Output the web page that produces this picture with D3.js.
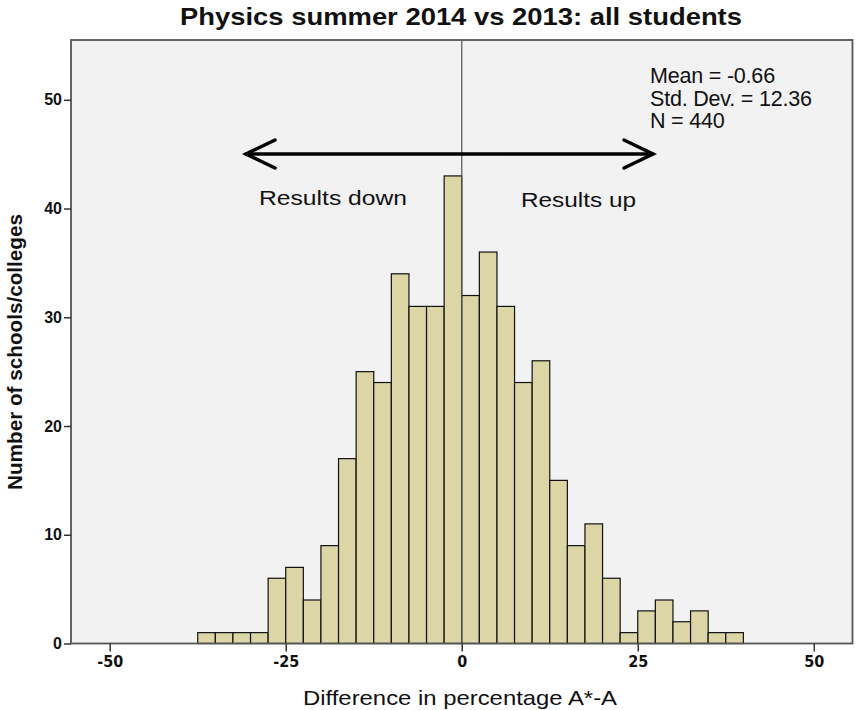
<!DOCTYPE html>
<html>
<head>
  <meta charset="utf-8">
  <script src="https://d3js.org/d3.v7.min.js"></script>
  <style>
    body { margin: 0; background: white; }
    svg { display: block; }
    text { font-family: "Liberation Sans", Arial, sans-serif; fill: #111; }
  </style>
</head>
<body>
<svg width="855" height="710"></svg>
<script>
// bin lower edges (width 2.5) and counts
const binStarts = [-37.5, -35, -32.5, -30, -27.5, -25, -22.5, -20, -17.5, -15, -12.5, -10, -7.5, -5, -2.5,
  0, 2.5, 5, 7.5, 10, 12.5, 15, 17.5, 20, 22.5, 25, 27.5, 30, 32.5, 35, 37.5];
const counts = [1, 1, 1, 1, 6, 7, 4, 9, 17, 25, 24, 34, 31, 31, 43,
  32, 36, 31, 24, 26, 15, 9, 11, 6, 1, 3, 4, 2, 3, 1, 1];
const binWidth = 2.5;
const xTicks = [-50, -25, 0, 25, 50];
const yTicks = [0, 10, 20, 30, 40, 50];
const stats = ["Mean = -0.66", "Std. Dev. = 12.36", "N = 440"];

const svg = d3.select("svg");
const plot = { left: 71, right: 852.5, top: 40, bottom: 643.5 };

const x = d3.scaleLinear().domain([-55.5, 55.5]).range([plot.left, plot.right]);
const y = d3.scaleLinear().domain([0, 55.5]).range([plot.bottom, plot.top]);

// plot background
svg.append("rect")
  .attr("x", plot.left).attr("y", plot.top)
  .attr("width", plot.right - plot.left).attr("height", plot.bottom - plot.top)
  .attr("fill", "#f2f2f2");

// bars
svg.append("g").selectAll("rect")
  .data(binStarts)
  .enter().append("rect")
  .attr("x", d => x(d))
  .attr("y", (d, i) => y(counts[i]))
  .attr("width", d => x(d + binWidth) - x(d))
  .attr("height", (d, i) => y(0) - y(counts[i]))
  .attr("fill", "#dcd6a6")
  .attr("stroke", "#111")
  .attr("stroke-width", 1.2);

// reference line at 0
svg.append("line")
  .attr("x1", x(0)).attr("x2", x(0))
  .attr("y1", plot.top).attr("y2", plot.bottom)
  .attr("stroke", "#555").attr("stroke-width", 1.2);

// frame
svg.append("rect")
  .attr("x", plot.left).attr("y", plot.top)
  .attr("width", plot.right - plot.left).attr("height", plot.bottom - plot.top)
  .attr("fill", "none")
  .attr("stroke", "#555").attr("stroke-width", 1.8);

// axes
const xAxis = svg.append("g")
  .attr("transform", `translate(0,${plot.bottom})`)
  .call(d3.axisBottom(x).tickValues(xTicks).tickFormat(d => String(d))
    .tickSize(8).tickSizeOuter(0).tickPadding(4));
xAxis.select(".domain").remove();
xAxis.selectAll("line").attr("stroke", "#333").attr("stroke-width", 1.5);
xAxis.selectAll("text")
  .style("font-family", "'Liberation Sans Narrow', 'DejaVu Sans Condensed', sans-serif")
  .attr("font-size", 16).attr("font-weight", "bold").attr("fill", "#111");

const yAxis = svg.append("g")
  .attr("transform", `translate(${plot.left},0)`)
  .call(d3.axisLeft(y).tickValues(yTicks).tickFormat(d => String(d))
    .tickSize(7).tickSizeOuter(0).tickPadding(2));
yAxis.select(".domain").remove();
yAxis.selectAll("line").attr("stroke", "#333").attr("stroke-width", 1.5);
yAxis.selectAll("text")
  .attr("font-size", 16).attr("font-weight", "bold").attr("fill", "#111");

// title
svg.append("text")
  .attr("x", 461).attr("y", 25)
  .attr("text-anchor", "middle")
  .attr("font-size", 24).attr("font-weight", "bold")
  .attr("textLength", 562).attr("lengthAdjust", "spacingAndGlyphs")
  .text("Physics summer 2014 vs 2013: all students");

// x axis title
svg.append("text")
  .attr("x", 460).attr("y", 705)
  .attr("text-anchor", "middle")
  .attr("font-size", 21)
  .attr("textLength", 314).attr("lengthAdjust", "spacingAndGlyphs")
  .text("Difference in percentage A*-A");

// y axis title
svg.append("text")
  .attr("transform", "translate(22,352) rotate(-90)")
  .attr("text-anchor", "middle")
  .attr("font-size", 20).attr("font-weight", "bold")
  .attr("textLength", 276).attr("lengthAdjust", "spacingAndGlyphs")
  .text("Number of schools/colleges");

// stats box
svg.append("g").selectAll("text")
  .data(stats)
  .enter().append("text")
  .attr("x", 650)
  .attr("y", (d, i) => 83 + i * 22.5)
  .attr("font-size", 21.5)
  .attr("letter-spacing", -0.2)
  .text(d => d);

// arrow
const arrowY = 154;
const ax1 = 246, ax2 = 653;
const arrow = svg.append("g")
  .attr("stroke", "#000").attr("stroke-width", 3.5)
  .attr("stroke-linecap", "round").attr("fill", "none");
arrow.append("line").attr("x1", ax1).attr("x2", ax2).attr("y1", arrowY).attr("y2", arrowY);
arrow.append("path").attr("d", `M${ax1 + 29},${arrowY - 14} L${ax1},${arrowY} L${ax1 + 29},${arrowY + 14}`);
arrow.append("path").attr("d", `M${ax2 - 29},${arrowY - 14} L${ax2},${arrowY} L${ax2 - 29},${arrowY + 14}`);

svg.append("text")
  .attr("x", 259).attr("y", 205)
  .attr("font-size", 21)
  .attr("textLength", 148).attr("lengthAdjust", "spacingAndGlyphs")
  .text("Results down");
svg.append("text")
  .attr("x", 521).attr("y", 207)
  .attr("font-size", 21)
  .attr("textLength", 115).attr("lengthAdjust", "spacingAndGlyphs")
  .text("Results up");
</script>
</body>
</html>
